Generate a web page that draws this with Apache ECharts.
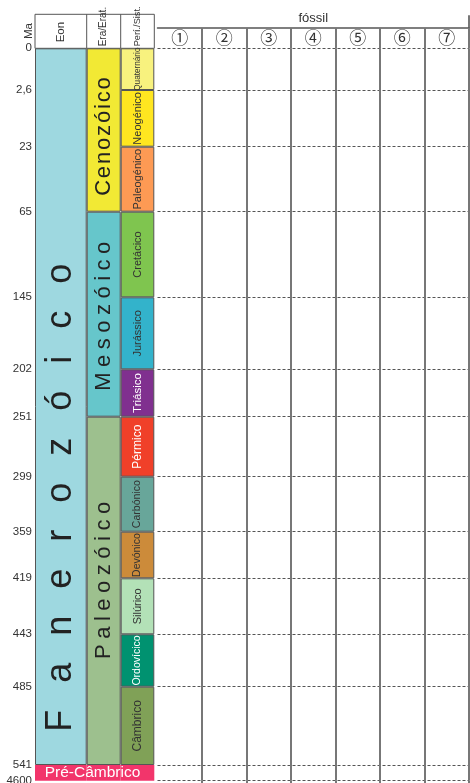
<!DOCTYPE html>
<html><head><meta charset="utf-8">
<script src="https://cdn.jsdelivr.net/npm/echarts@6/dist/echarts.min.js"></script>
<style>html,body{margin:0;padding:0;background:#fff}#c{width:470px;height:783px}</style>
</head><body><div id="c"></div>
<script>
// ---- data ----
const periods = ['Quaternário','Neogénico','Paleogénico','Cretácico','Jurássico','Triásico','Pérmico','Carbónico','Devónico','Silúrico','Ordovícico','Câmbrico'];
// schematic display height of each period band (chart is not to scale)
const periodSpan = [41.7,56.7,65,85.6,72,47.4,60,55,46.6,56,52.4,78.3];
const preCambrianSpan = 15.7;
const eras = ['Cenozóico','Mesozóico','Paleozóico'];
const eraPeriodCount = [3,3,6];
const eons = ['Fanerozóico','Pré-Câmbrico'];
const maLabels = ['0','2,6','23','65','145','202','251','299','359','419','443','485','541','4600'];
const fossils = ['①','②','③','④','⑤','⑥','⑦'];
const columnHeaders = ['Eon','Era/Erat.','Perí./Sist.'];

// ---- styles ----
const periodColors = ['#F8F27E','#FFE620','#FD9A54','#7FC54F','#33B3CB','#80308F','#F04029','#68A69A','#CC8B3A','#B3E1B7','#009270','#80A157'];
const periodTextColors = ['#333','#333','#333','#333','#333','#fff','#fff','#333','#333','#333','#fff','#333'];
const periodFont = [8.2,11,11,11,11,11.5,12,10.5,10.5,11,10.5,12];
const eraColors = ['#F2E934','#66C6CB','#9DC08E'];
const eraSep = ['\u200A','\u2005','\u2005'];
const eraPos = ['54%','51%','47%'];
const eonColor = '#9ED8E0';
const preColor = '#F2356B';
const NARROW = "'Liberation Sans Narrow','Arial Narrow','Liberation Sans',sans-serif";
const SANS = "'Liberation Sans',Arial,sans-serif";
const BORDER = '#555';

// ---- derived ----
const sum = a => a.reduce((x, y) => x + y, 0);
const phanSpan = sum(periodSpan);
const total = phanSpan + preCambrianSpan;
const boundaries = [0];
periodSpan.forEach(v => boundaries.push(boundaries[boundaries.length - 1] + v));
boundaries.push(total);
let k = 0;
const eraSpan = eraPeriodCount.map(n => { const s = sum(periodSpan.slice(k, k + n)); k += n; return s; });
const spaced = (s, sep) => Array.from(s).join(sep);

const TOP = 48.3, BOT = 2.3;
const cols = [{left: 35, width: 51.7}, {left: 86.7, width: 34}, {left: 120.7, width: 33.6}];
const fossilLeft = 157.5, fossilRight = 1;
const headTop = 14.3;

const grids = cols.map(c => ({left: c.left, width: c.width, top: TOP, bottom: BOT, containLabel: false, outerBoundsMode: 'none'}));
grids.push({left: fossilLeft, right: fossilRight, top: TOP, bottom: BOT, containLabel: false, outerBoundsMode: 'none'});

const yAxes = [0,1,2].map(i => ({
  gridIndex: i, type: 'value', inverse: true, min: 0, max: total,
  axisLine: {show: false}, splitLine: {show: false},
  axisTick: {show: false, customValues: boundaries},
  axisLabel: i === 0 ? {
    show: true, customValues: boundaries, margin: 3, fontSize: 11.5, color: '#333', fontFamily: SANS,
    formatter: v => { const idx = boundaries.findIndex(b => Math.abs(b - v) < 1e-6); return idx >= 0 ? maLabels[idx] : ''; }
  } : {show: false}
}));
yAxes.push({
  gridIndex: 3, type: 'value', inverse: true, min: 0, max: total,
  axisLine: {show: false}, axisLabel: {show: false},
  axisTick: {show: false, customValues: boundaries},
  splitLine: {show: true, lineStyle: {type: [3, 2], color: '#555', width: 1}}
});

const headFont = [11.5, 10, 9.2];
const xAxes = [0,1,2].map(i => ({
  gridIndex: i, type: 'category', data: [columnHeaders[i]], position: 'top',
  axisLine: {show: false}, axisTick: {show: false},
  axisLabel: {rotate: 90, margin: i === 0 ? 6 : 2, fontSize: headFont[i], color: '#333', fontFamily: NARROW}
}));
const skipFirst = (i) => i > 0;
xAxes.push({
  gridIndex: 3, type: 'category', data: fossils, position: 'top', boundaryGap: true,
  axisLine: {show: false},
  axisTick: {show: true, interval: skipFirst, length: TOP - 28, lineStyle: {color: '#777', width: 2}},
  splitLine: {show: true, interval: skipFirst, lineStyle: {color: '#777', width: 2}},
  axisLabel: {margin: 2, fontSize: 17, color: '#333', fontFamily: "'Noto Sans CJK JP','DejaVu Sans',sans-serif", interval: 0}
});
xAxes.push({
  gridIndex: 3, type: 'category', data: fossils, position: 'top', offset: TOP - 28,
  axisLine: {show: true, lineStyle: {color: '#555', width: 1.5}},
  axisTick: {show: false}, axisLabel: {show: false},
  name: 'fóssil', nameLocation: 'middle', nameGap: 3,
  nameTextStyle: {fontSize: 13, color: '#333', fontFamily: SANS}
});
xAxes.push({
  gridIndex: 3, type: 'category', data: fossils, position: 'bottom',
  axisLine: {show: false}, axisLabel: {show: false},
  axisTick: {show: true, interval: skipFirst, length: BOT, lineStyle: {color: '#777', width: 2}}
});

const series = [];
const barBase = (g, stack) => ({type: 'bar', xAxisIndex: g, yAxisIndex: g, stack, barWidth: '100%', animation: false});
// Eon column
series.push(Object.assign(barBase(0, 'eon'), {
  name: eons[0], data: [phanSpan],
  itemStyle: {color: eonColor, borderColor: BORDER, borderWidth: 1},
  label: {show: true, position: ['50%', '62.7%'], rotate: 90, align: 'center', verticalAlign: 'middle',
    fontSize: 36, color: '#222', fontFamily: SANS, formatter: () => spaced(eons[0], '\u2002\u2005')}
}));
series.push(Object.assign(barBase(0, 'eon'), {
  name: eons[1], data: [preCambrianSpan], itemStyle: {color: preColor, borderWidth: 0}
}));
// Era column
eras.forEach((e, i) => series.push(Object.assign(barBase(1, 'era'), {
  name: e, data: [eraSpan[i]],
  itemStyle: {color: eraColors[i], borderColor: BORDER, borderWidth: 1},
  label: {show: true, position: ['50%', eraPos[i]], rotate: 90, align: 'center', verticalAlign: 'middle',
    fontSize: 22, color: '#222', fontFamily: SANS, formatter: () => spaced(e, eraSep[i])}
})));
series.push(Object.assign(barBase(1, 'era'), {
  name: eons[1] + ' ', data: [preCambrianSpan], itemStyle: {color: preColor, borderWidth: 0}
}));
// Period column
periods.forEach((p, i) => series.push(Object.assign(barBase(2, 'per'), {
  name: p, data: [periodSpan[i]],
  itemStyle: {color: periodColors[i], borderColor: BORDER, borderWidth: 1},
  label: {show: true, position: 'inside', rotate: 90, fontSize: periodFont[i], color: periodTextColors[i], fontFamily: NARROW, formatter: p}
})));
series.push(Object.assign(barBase(2, 'per'), {
  name: eons[1] + '  ', data: [preCambrianSpan], itemStyle: {color: preColor, borderWidth: 0},
  label: {show: true, position: 'inside', offset: [-45, 0], fontSize: 15.5, color: '#fff', fontFamily: SANS, formatter: eons[1]}
}));

const headW = cols[2].left + cols[2].width - cols[0].left;
const graphic = [
  {type: 'rect', shape: {x: cols[0].left, y: headTop, width: headW, height: TOP - headTop}, style: {fill: 'none', stroke: BORDER, lineWidth: 1}},
  {type: 'line', shape: {x1: cols[1].left, y1: headTop, x2: cols[1].left, y2: TOP}, style: {stroke: BORDER, lineWidth: 1}},
  {type: 'line', shape: {x1: cols[2].left, y1: headTop, x2: cols[2].left, y2: TOP}, style: {stroke: BORDER, lineWidth: 1}},
  {type: 'line', shape: {x1: 470 - fossilRight, y1: headTop + 1, x2: 470 - fossilRight, y2: 28}, style: {stroke: '#777', lineWidth: 2}},
  {type: 'text', x: 29, y: 31, rotation: Math.PI / 2, style: {text: 'Ma', fontSize: 11.5, fill: '#333', fontFamily: SANS, align: 'center', verticalAlign: 'middle'}}
];

const chart = echarts.init(document.getElementById('c'));
chart.setOption({
  animation: false,
  grid: grids, xAxis: xAxes, yAxis: yAxes, series, graphic
});
</script></body></html>
